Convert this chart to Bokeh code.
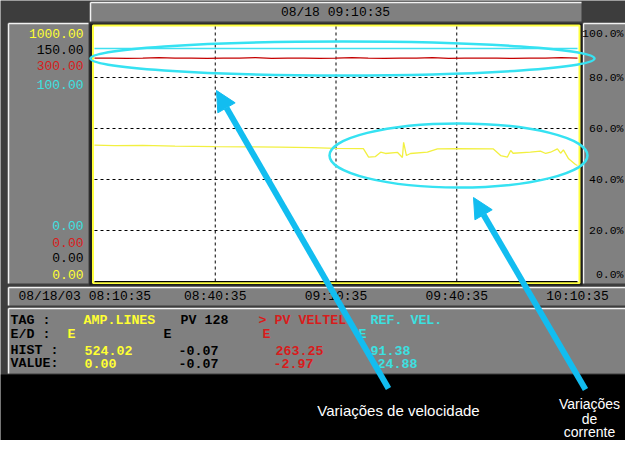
from bokeh.plotting import figure
from bokeh.models import Range1d, ColumnDataSource, Arrow, NormalHead
from bokeh.core.properties import value
from bokeh.embed import file_html
from bokeh.resources import INLINE

# ---------------- data ----------------
header_label = "08/18 09:10:35"
date_label = "08/18/03"
time_ticks = [0, 30, 60, 90, 120]          # minutes after 08:10:35
time_labels = ["08:10:35", "08:40:35", "09:10:35", "09:40:35", "10:10:35"]
pct_ticks = [0, 20, 40, 60, 80, 100]
pct_labels = ["0.0%", "20.0%", "40.0%", "60.0%", "80.0%", "100.0%"]

tags = ["AMP.LINES", "PV 128", "> PV VELTEL", "REF. VEL."]
ed_flags = ["E", "E", "E", "E"]
hist_vals = ["524.02", "-0.07", "263.25", "91.38"]
value_vals = ["0.00", "-0.07", "-2.97", "24.88"]
scale_min = [0.0, 0.0, 0.0, 0.0]
scale_max = [1000.0, 150.0, 300.0, 100.0]
row_names = ["TAG  :", "E/D  :", "HIST :", "VALUE:"]

# AMP.LINES (yellow, 0-1000)
amp_t = [0, 5, 12, 20, 30, 38, 46, 54, 60, 66.8, 68.1, 69.8, 71.1, 72.3, 75.3, 76.5,
         76.8, 77.5, 78.5, 82.7, 85.2, 90, 99.1, 100.9, 102.6, 103.4, 104.0, 108.3,
         110.8, 112.1, 113.3, 115.0, 115.8, 116.5, 117.8, 119.5, 120]
amp_v = [535, 533, 534, 531, 529, 528, 527, 525, 522, 521, 488, 490, 507, 502, 506, 486,
         546, 494, 502, 507, 520, 521, 520, 494, 488, 514, 503, 507, 511, 502, 507, 520,
         503, 516, 481, 459, 455]
# PV 128 (black, 0-150)
pv_t = [0, 120]
pv_v = [-0.07, -0.07]
# PV VELTEL (red, 0-300)
vel_t = [0, 4, 8, 12, 16, 20, 24, 28, 32, 36, 40, 44, 48, 52, 56, 60, 64, 68, 72, 76,
         80, 84, 88, 92, 96, 100, 104, 108, 112, 116, 120]
vel_v = [262.8, 262.8, 262.4, 262.8, 263.4, 262.8, 262.8, 262.4, 262.8, 262.8, 263.4,
         262.4, 262.8, 262.8, 262.4, 262.8, 263.4, 262.8, 262.4, 262.8, 262.8, 263.4,
         262.4, 262.8, 262.8, 262.8, 262.4, 262.8, 262.8, 263.4, 262.8]
# REF. VEL. (cyan, 0-100)
ref_t = [0, 120]
ref_v = [91.38, 91.38]

annot_speed = "Variações de velocidade"
annot_current = ["Variações", "de", "corrente"]

# ---------------- style ----------------
BG = "#3d3d3d"
PANEL = "#808080"
HI = "#f2f2f2"
YEL_T = "#ffff33"
RED_T = "#d81c1c"
CYAN_T = "#3ce0e0"
BLK_T = "#000000"
text_cols = [YEL_T, BLK_T, RED_T, CYAN_T]
trace_cols = ["#f2f040", "#000000", "#c40000", "#40e0f0"]
ARROW_C = "#12bdf0"
ELL_C = "#36e2f2"
MONO = value("Liberation Mono")
SANS = value("Liberation Sans")

W, H = 625, 440
p = figure(width=W, height=H, x_range=Range1d(0, W), y_range=Range1d(H, 0),
           output_backend="svg", toolbar_location=None, min_border=0,
           x_axis_location=None, y_axis_location=None)
p.grid.visible = False
p.outline_line_color = None
p.background_fill_color = BG
p.border_fill_color = BG

# trend area in canvas pixels
X0, X1 = 94.0, 577.0
YT, YB = 26.0, 281.0
ppm = (X1 - X0) / (time_ticks[-1] - time_ticks[0])
p.extra_x_ranges = {"t": Range1d(time_ticks[0] - X0 / ppm,
                                 time_ticks[-1] + (W - X1) / ppm)}


def yr(lo, hi):
    upp = (hi - lo) / (YB - YT)
    return Range1d(lo - (H - YB) * upp, hi + YT * upp)


p.extra_y_ranges = {"pct": yr(pct_ticks[0], pct_ticks[-1])}
for i in range(4):
    p.extra_y_ranges["s%d" % i] = yr(scale_min[i], scale_max[i])

# ---------------- background panels ----------------
p.quad(left=[0], right=[W], top=[374], bottom=[H], fill_color="#000000", line_color=None)
panels = dict(l=[90, 8, 583, 8, 8], r=[581, 88, W, W, W],
              t=[2, 23, 23, 287, 308], b=[21, 283, 283, 305, 373])
p.quad(left=panels["l"], right=panels["r"], top=panels["t"], bottom=panels["b"],
       fill_color=PANEL, line_color=None)
p.segment(x0=panels["l"], y0=panels["t"], x1=panels["r"], y1=panels["t"], line_color=HI, line_width=1.5)
p.segment(x0=panels["l"], y0=panels["t"], x1=panels["l"], y1=panels["b"], line_color=HI, line_width=1.5)

# plot frame
p.quad(left=[89], right=[582], top=[23], bottom=[285], fill_color="#1e1e1e", line_color=None)
p.quad(left=[92.5], right=[579], top=[25], bottom=[282.5], fill_color="#ffffff",
       line_color="#ffff40", line_width=2)

# grid
vt = time_ticks[1:-1]
p.segment(x0=vt, y0=[pct_ticks[0]] * len(vt), x1=vt, y1=[pct_ticks[-1]] * len(vt),
          x_range_name="t", y_range_name="pct", line_color="#000000", line_width=1, line_dash="3 3")
hp = pct_ticks[1:-1]
p.segment(x0=[time_ticks[0]] * len(hp), y0=hp, x1=[time_ticks[-1]] * len(hp), y1=hp,
          x_range_name="t", y_range_name="pct", line_color="#000000", line_width=1, line_dash="3 3")

# traces
series = [(amp_t, amp_v), (pv_t, pv_v), (vel_t, vel_v), (ref_t, ref_v)]
for i, (tt, vv) in enumerate(series):
    p.line(tt, vv, x_range_name="t", y_range_name="s%d" % i,
           line_color=trace_cols[i], line_width=1.3)

# ---------------- texts ----------------
def txt(xs, ys, texts, colors, align="left", size="13px", font=MONO, style="normal", **kw):
    src = ColumnDataSource(dict(x=xs, y=ys, text=texts, c=colors))
    p.text(x="x", y="y", text="text", source=src, text_color="c", text_align=align,
           text_baseline="middle", text_font=font, text_font_size=size,
           text_font_style=style, **kw)

# header
txt([335], [12], [header_label], [BLK_T], align="center")

# left scale labels: maxima (top) and minima (bottom, reverse order)
top_order = [0, 1, 2, 3]
txt([83] * 4, [33, 49, 65, 84], ["%.2f" % scale_max[i] for i in top_order],
    [text_cols[i] for i in top_order], align="right")
bot_order = [3, 2, 1, 0]
txt([83] * 4, [225, 242, 257, 274], ["%.2f" % scale_min[i] for i in bot_order],
    [text_cols[i] for i in bot_order], align="right")

# right percent labels
RS = "11.5px"
txt([623] * 4, pct_ticks[1:-1], pct_labels[1:-1], [BLK_T] * 4, align="right", size=RS,
    y_range_name="pct")
txt([623, 623], [33, 274], [pct_labels[-1], pct_labels[0]], [BLK_T] * 2, align="right", size=RS)

# time labels
txt([18], [296], [date_label + " " + time_labels[0]], [BLK_T])
txt(time_ticks[1:], [296] * 4, time_labels[1:], [BLK_T] * 4, align="center", x_range_name="t")

# info panel
rows_y = [320, 334, 350, 363]
txt([10] * 4, rows_y, row_names, [BLK_T] * 4, size="13.3px", style="bold")
txt([83, 180, 258, 370], [rows_y[0]] * 4, tags, text_cols, size="13.3px", style="bold")
txt([67, 163, 262, 358], [rows_y[1]] * 4, ed_flags, text_cols, size="13.3px", style="bold")
txt([84, 178, 275, 370], [rows_y[2]] * 4, hist_vals, text_cols, size="13.3px", style="bold")
txt([84, 178, 273, 377], [rows_y[3]] * 4, value_vals, text_cols, size="13.3px", style="bold")

# ---------------- annotations ----------------
p.ellipse(x=[342, 458], y=[58, 155], width=[504, 258], height=[34, 64],
          fill_color=None, line_color=ELL_C, line_width=2.5)

for (xs, ys), (xe, ye) in [((388, 388), (216, 90)), ((585, 389), (473, 197))]:
    p.add_layout(Arrow(end=NormalHead(size=20, fill_color=ARROW_C, line_color=ARROW_C, line_width=1),
                       x_start=xs, y_start=ys, x_end=xe, y_end=ye,
                       line_color=ARROW_C, line_width=6))

txt([398], [410], [annot_speed], ["#ffffff"], align="center", size="15px", font=SANS)
txt([589] * 3, [403, 418, 431], annot_current, ["#ffffff"] * 3, align="center", size="14px", font=SANS)

open("out.html", "w").write(file_html(p, INLINE))
